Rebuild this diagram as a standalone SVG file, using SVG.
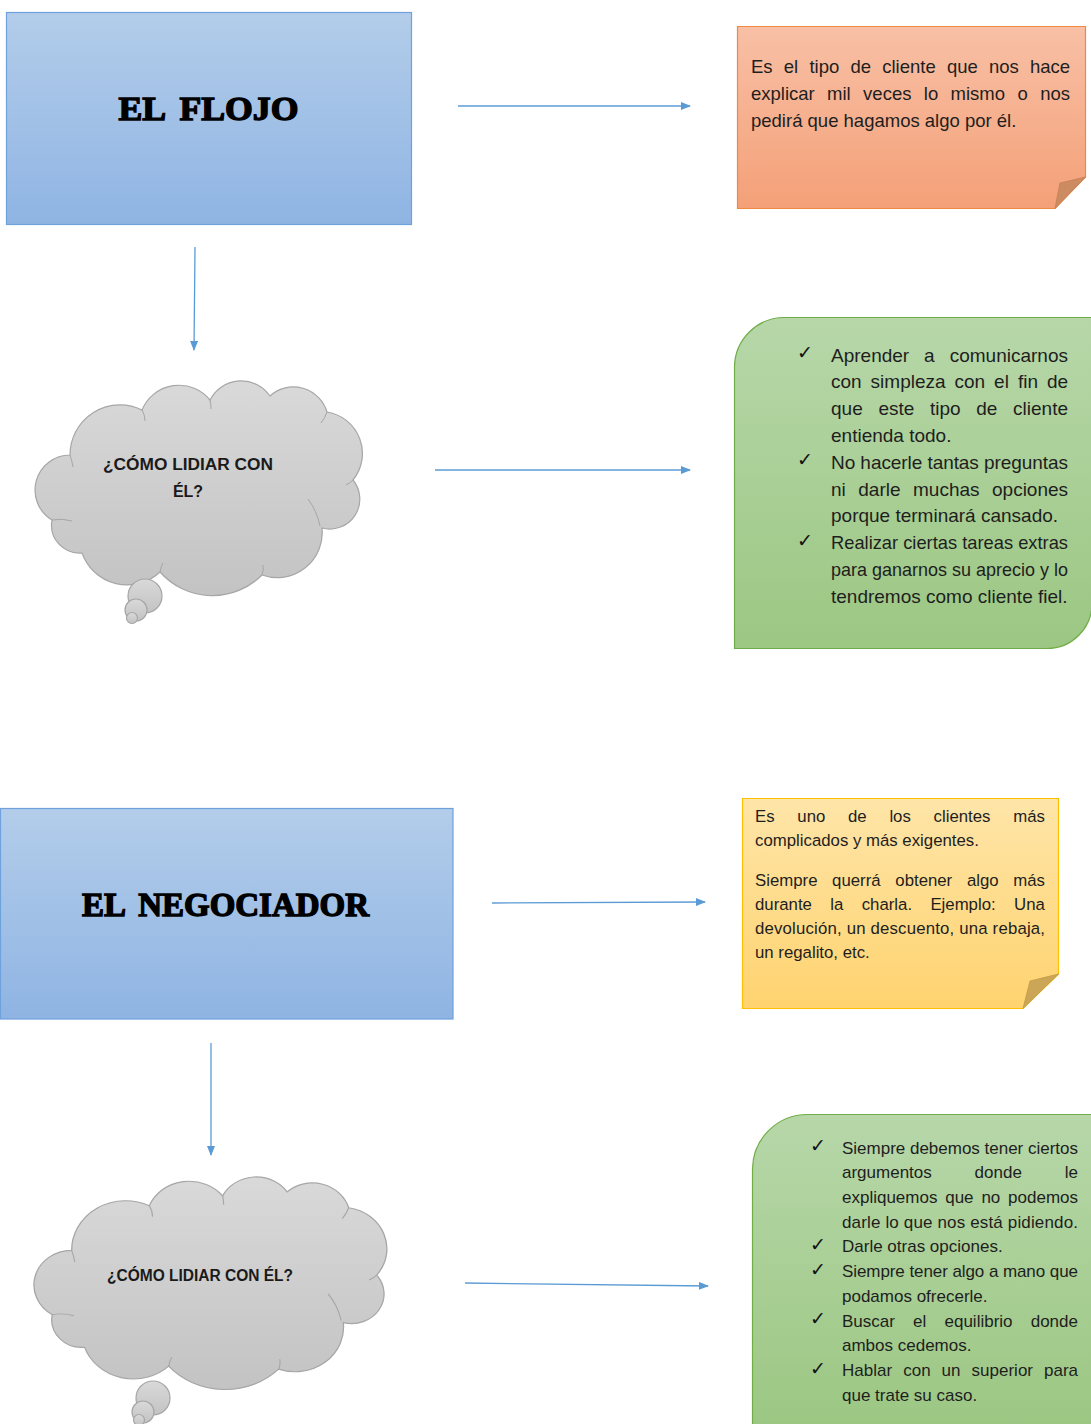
<svg xmlns="http://www.w3.org/2000/svg" width="1091" height="1424" viewBox="0 0 1091 1424">
<style>
.conn{stroke:#5b9bd5;stroke-width:1.3;fill:none}
.title{font-family:"Liberation Serif","DejaVu Serif",serif;font-weight:bold;font-size:34px;fill:#000;stroke:#000;stroke-width:1.4;text-anchor:middle;word-spacing:6px}
.t{font-family:"Liberation Sans",Arial,sans-serif;fill:#1e1e1e}
.n1{font-size:18.5px}
.g1{font-size:19px}
.n2{font-size:16.8px}
.g2{font-size:17px}
.ck{font-family:"DejaVu Sans",sans-serif;fill:#111;font-size:19px}
.ctext{font-family:"Liberation Sans",Arial,sans-serif;font-weight:bold;font-size:16px;fill:#1a1a1a;text-anchor:middle}
.cloud{fill:url(#gGray);stroke:#a6a6a6;stroke-width:1.2}
.inner{fill:none;stroke:#a6a6a6;stroke-width:1}
</style>
<defs>
<linearGradient id="gBlue" x1="0" y1="0" x2="0" y2="1"><stop offset="0" stop-color="#b3cdea"/><stop offset="1" stop-color="#8fb4e3"/></linearGradient>
<linearGradient id="gOrange" x1="0" y1="0" x2="0" y2="1"><stop offset="0" stop-color="#f8c0a6"/><stop offset="1" stop-color="#f4a077"/></linearGradient>
<linearGradient id="gYellow" x1="0" y1="0" x2="0" y2="1"><stop offset="0" stop-color="#fee5a8"/><stop offset="1" stop-color="#ffd36f"/></linearGradient>
<linearGradient id="gGreen" x1="0" y1="0" x2="0" y2="1"><stop offset="0" stop-color="#b7d7a9"/><stop offset="1" stop-color="#9cc783"/></linearGradient>
<linearGradient id="gGray" x1="0" y1="0" x2="0" y2="1"><stop offset="0" stop-color="#d9d9d9"/><stop offset="1" stop-color="#c3c3c3"/></linearGradient>
<marker id="ah" markerUnits="userSpaceOnUse" markerWidth="10" markerHeight="8" refX="9" refY="4" orient="auto"><path d="M0,0 L10,4 L0,8 Z" fill="#5b9bd5"/></marker>
<path id="cloudShape" d="M16,133 A35,35 0 0 1 34,68 A50,50 0 0 1 106,23 A40,40 0 0 1 174,13 A35,35 0 0 1 234,9 A35,35 0 0 1 291,25 A42,42 0 0 1 317,93 A30,30 0 0 1 286,141 A45,45 0 0 1 226,188 A70,70 0 0 1 124,185 A48,48 0 0 1 46,166 A28,28 0 0 1 16,133 Z"/>
<path id="cloudInner" d="M34,68 q2,6 3,12 M106,23 q3,5 3,11 M174,13 q1,4 1,9 M291,25 q-2,6 -6,11 M317,93 q-3,3 -7,5 M272,112 q9,12 12,27 M124,185 q1,-6 3,-9 M16,133 q10,-2 20,1 M226,188 q2,-5 1,-10"/>
</defs>

<g id="connectors">
<line class="conn" x1="458" y1="106" x2="690" y2="106" marker-end="url(#ah)"/>
<line class="conn" x1="195" y1="247" x2="194" y2="350" marker-end="url(#ah)"/>
<line class="conn" x1="435" y1="470" x2="690" y2="470" marker-end="url(#ah)"/>
<line class="conn" x1="492" y1="903" x2="705" y2="902" marker-end="url(#ah)"/>
<line class="conn" x1="211" y1="1043" x2="211" y2="1155" marker-end="url(#ah)"/>
<line class="conn" x1="465" y1="1283" x2="708" y2="1286" marker-end="url(#ah)"/>
</g>

<g id="node-flojo">
<rect x="6.5" y="12.5" width="405" height="212" fill="url(#gBlue)" stroke="#6fa1dc" stroke-width="1.2"/>
<text class="title" x="208.5" y="119.5" textLength="180" lengthAdjust="spacingAndGlyphs">EL FLOJO</text>
</g>

<g id="node-flojo-desc">
<path d="M737.5,26.5 H1085.5 V177 L1055,208.5 H737.5 Z" fill="url(#gOrange)" stroke="#f0883f" stroke-width="1.2"/>
<path d="M1055,208.5 L1085.5,177 L1060,183 Z" fill="#cd8b62" stroke="#c47f55" stroke-width="0.8"/>
<text class="t n1" y="73"><tspan x="751">Es</tspan><tspan x="783.8">el</tspan><tspan x="809.4">tipo</tspan><tspan x="850.4">de</tspan><tspan x="882.2">cliente</tspan><tspan x="947">que</tspan><tspan x="989">nos</tspan><tspan x="1030">hace</tspan></text>
<text class="t n1" y="100"><tspan x="751">explicar</tspan><tspan x="827.1">mil</tspan><tspan x="863.1">veces</tspan><tspan x="923.8">lo</tspan><tspan x="950.6">mismo</tspan><tspan x="1017.5">o</tspan><tspan x="1040.2">nos</tspan></text>
<text class="t n1" x="751" y="127">pedirá que hagamos algo por él.</text>
</g>

<g id="node-flojo-cloud">
<g transform="translate(36,387)">
<use href="#cloudShape" class="cloud"/>
<use href="#cloudInner" class="inner"/>
</g>
<circle cx="145" cy="596" r="17" class="cloud"/>
<circle cx="136" cy="610" r="11" class="cloud"/>
<circle cx="132" cy="618" r="5.5" class="cloud"/>
<text class="ctext" x="188" y="470" textLength="170" lengthAdjust="spacingAndGlyphs">¿CÓMO LIDIAR CON</text>
<text class="ctext" x="188" y="497">ÉL?</text>
</g>

<g id="node-flojo-tips">
<path d="M734.5,367 A50,50 0 0 1 784.5,317.5 H1092 V604 A45,45 0 0 1 1047,648.5 H734.5 Z" fill="url(#gGreen)" stroke="#70ad47" stroke-width="1.2"/>
<text class="ck" x="797" y="359">✓</text>
<text class="ck" x="797" y="466">✓</text>
<text class="ck" x="797" y="547">✓</text>
<text class="t g1" y="361.5"><tspan x="831">Aprender</tspan><tspan x="924.1">a</tspan><tspan x="949.7">comunicarnos</tspan></text>
<text class="t g1" y="388.3"><tspan x="831">con</tspan><tspan x="870.6">simpleza</tspan><tspan x="954.5">con</tspan><tspan x="994.1">el</tspan><tspan x="1017.9">fin</tspan><tspan x="1047">de</tspan></text>
<text class="t g1" y="415.1"><tspan x="831">que</tspan><tspan x="878.4">este</tspan><tspan x="930">tipo</tspan><tspan x="976.3">de</tspan><tspan x="1013.1">cliente</tspan></text>
<text class="t g1" x="831" y="441.9">entienda todo.</text>
<text class="t g1" x="831" y="468.7" textLength="237" lengthAdjust="spacing">No hacerle tantas preguntas</text>
<text class="t g1" y="495.5"><tspan x="831">ni</tspan><tspan x="858.3">darle</tspan><tspan x="913">muchas</tspan><tspan x="992">opciones</tspan></text>
<text class="t g1" x="831" y="522.3">porque terminará cansado.</text>
<text class="t g1" x="831" y="549.1" textLength="237" lengthAdjust="spacingAndGlyphs">Realizar ciertas tareas extras</text>
<text class="t g1" x="831" y="575.9" textLength="237" lengthAdjust="spacingAndGlyphs">para ganarnos su aprecio y lo</text>
<text class="t g1" x="831" y="602.7">tendremos como cliente fiel.</text>
</g>

<g id="node-negociador">
<rect x="0.5" y="808.5" width="452.5" height="210.5" fill="url(#gBlue)" stroke="#6fa1dc" stroke-width="1.2"/>
<text class="title" x="225.5" y="916" textLength="287" lengthAdjust="spacingAndGlyphs">EL NEGOCIADOR</text>
</g>

<g id="node-negociador-desc">
<path d="M742.5,798.5 H1058.5 V974 L1023,1008.5 H742.5 Z" fill="url(#gYellow)" stroke="#ffc000" stroke-width="1.2"/>
<path d="M1023,1008.5 L1058.5,974 L1030,981 Z" fill="#caa656" stroke="#c09a48" stroke-width="0.8"/>
<text class="t n2" y="821.5"><tspan x="755">Es</tspan><tspan x="797.3">uno</tspan><tspan x="848">de</tspan><tspan x="889.4">los</tspan><tspan x="933.6">clientes</tspan><tspan x="1013.3">más</tspan></text>
<text class="t n2" x="755" y="846">complicados y más exigentes.</text>
<text class="t n2" y="885.5"><tspan x="755">Siempre</tspan><tspan x="832.1">querrá</tspan><tspan x="895.3">obtener</tspan><tspan x="966.9">algo</tspan><tspan x="1013.3">más</tspan></text>
<text class="t n2" y="909.8"><tspan x="755">durante</tspan><tspan x="830.3">la</tspan><tspan x="861.7">charla.</tspan><tspan x="930.4">Ejemplo:</tspan><tspan x="1014.1">Una</tspan></text>
<text class="t n2" x="755" y="934" textLength="290" lengthAdjust="spacing">devolución, un descuento, una rebaja,</text>
<text class="t n2" x="755" y="958.3">un regalito, etc.</text>
</g>

<g id="node-negociador-cloud">
<g transform="translate(35,1183) scale(1.078,0.99)">
<use href="#cloudShape" class="cloud" vector-effect="non-scaling-stroke"/>
<use href="#cloudInner" class="inner" vector-effect="non-scaling-stroke"/>
</g>
<circle cx="153" cy="1398" r="17" class="cloud"/>
<circle cx="143" cy="1412" r="11" class="cloud"/>
<circle cx="139" cy="1420" r="5.5" class="cloud"/>
<text class="ctext" x="200" y="1281" textLength="186" lengthAdjust="spacingAndGlyphs">¿CÓMO LIDIAR CON ÉL?</text>
</g>

<g id="node-negociador-tips">
<path d="M752.5,1169 A55,55 0 0 1 807.5,1114.5 H1092 V1425 H752.5 Z" fill="url(#gGreen)" stroke="#70ad47" stroke-width="1.2"/>
<text class="ck" x="810" y="1152">✓</text>
<text class="ck" x="810" y="1251">✓</text>
<text class="ck" x="810" y="1276">✓</text>
<text class="ck" x="810" y="1325">✓</text>
<text class="ck" x="810" y="1374.5">✓</text>
<text class="t g2" x="842" y="1153.5" textLength="236" lengthAdjust="spacing">Siempre debemos tener ciertos</text>
<text class="t g2" y="1178.2"><tspan x="842">argumentos</tspan><tspan x="974.6">donde</tspan><tspan x="1064.8">le</tspan></text>
<text class="t g2" y="1203"><tspan x="842">expliquemos</tspan><tspan x="945.2">que</tspan><tspan x="981.4">no</tspan><tspan x="1008.1">podemos</tspan></text>
<text class="t g2" x="842" y="1227.7" textLength="236" lengthAdjust="spacing">darle lo que nos está pidiendo.</text>
<text class="t g2" x="842" y="1252.4">Darle otras opciones.</text>
<text class="t g2" x="842" y="1277.1" textLength="236" lengthAdjust="spacing">Siempre tener algo a mano que</text>
<text class="t g2" x="842" y="1301.8">podamos ofrecerle.</text>
<text class="t g2" y="1326.5"><tspan x="842">Buscar</tspan><tspan x="913.1">el</tspan><tspan x="944.5">equilibrio</tspan><tspan x="1030.7">donde</tspan></text>
<text class="t g2" x="842" y="1351.2">ambos cedemos.</text>
<text class="t g2" y="1375.9"><tspan x="842">Hablar</tspan><tspan x="903.2">con</tspan><tspan x="941.6">un</tspan><tspan x="971.6">superior</tspan><tspan x="1044">para</tspan></text>
<text class="t g2" x="842" y="1400.6">que trate su caso.</text>
</g>
</svg>
